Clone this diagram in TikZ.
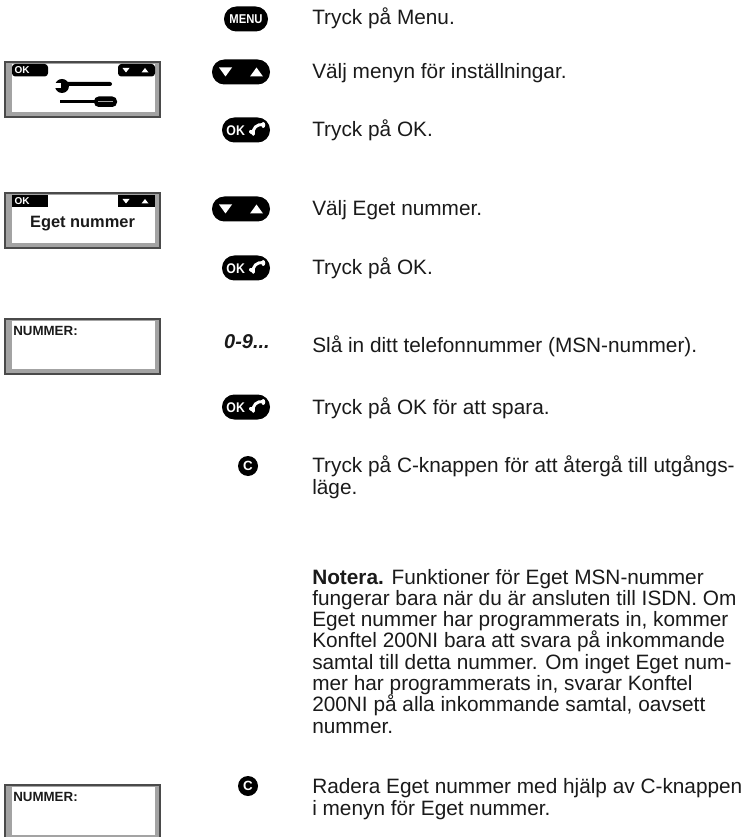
\documentclass[tikz,border=0pt]{standalone}
\usepackage{fontspec}
\setmainfont{Liberation Sans}
\newfontfamily\lcdfont{Liberation Sans}
\newfontfamily\keyfont[FakeStretch=0.88]{Liberation Sans}
\usetikzlibrary{calc}
\definecolor{lcdgray}{HTML}{A3A3A3}
\definecolor{lcdedge}{HTML}{4A4A4A}
\definecolor{ink}{HTML}{1A1A1A}
\tikzset{
  body/.style={anchor=base west, inner sep=0, text=ink, font=\fontsize{15.6}{16}\selectfont},
  pill/.style={fill=black, rounded corners=9.3pt, minimum height=18.75pt, inner sep=0},
  pilltext/.style={inner sep=0, text=white, font=\keyfont\bfseries\fontsize{10.5}{10.5}\selectfont},
  menutext/.style={inner sep=0, text=white, font=\keyfont\bfseries\fontsize{9.6}{9.6}\selectfont},
  cbtn/.style={circle, fill=black, minimum size=15pt, inner sep=0, text=white, font=\lcdfont\bfseries\fontsize{10}{10}\selectfont},
  scrbig/.style={inner sep=0, text=ink, font=\lcdfont\bfseries\fontsize{12.3}{12.3}\selectfont},
  scrlbl/.style={anchor=base west, inner sep=0, text=ink, font=\lcdfont\bfseries\fontsize{10}{10}\selectfont},
  scrbar/.style={inner sep=0, text=white, font=\lcdfont\bfseries\fontsize{7.5}{7.5}\selectfont},
  pics/handset/.style={code={
    \draw[white, line width=2.2pt, line cap=round] (-4.5,4.5) .. controls (-5.5,-2) and (-1,-6) .. (5.5,-5.5);
    \fill[white, rotate=-25] (-4.5,4.5) ellipse (3.0 and 2.0);
    \fill[white] (5.5,-5) ellipse (2.0 and 3.0);
  }},
  pics/updown/.style={code={
    \fill[white] (-22,-4.5) -- (-9,-4.5) -- (-15.5,4.5) -- cycle;
    \fill[white] (9,4.5) -- (22,4.5) -- (15.5,-4.5) -- cycle;
  }},
  pics/lcd/.style={code={
    \fill[lcdgray] (0,0) rectangle (155,55);
    \fill[white] (7,2) rectangle (150,50);
    \draw[lcdedge, line width=0.9pt] (0,0) rectangle (155,55);
  }},
}
\begin{document}
\begin{tikzpicture}[x=0.75pt, y=-0.75pt]
\useasboundingbox (0,0) rectangle (742,837);
\clip (0,0) rectangle (742,837);

% ---------- screens ----------
% screen 1
\pic at (5,62) {lcd};
\begin{scope}[shift={(5,62)}]
  \fill[black, rounded corners=2.5] (7,2) rectangle (43,14.5);
  \node[scrbar] (s1ok) at (17,8.5) {OK};
  \fill[black, rounded corners=2.5] (113,2) rectangle (150,14.5);
  \fill[white] (117.5,6) -- (124.5,6) -- (121,10.5) -- cycle;
  \fill[white] (136.5,10.5) -- (143.5,10.5) -- (140,6) -- cycle;
  % wrench
  \fill[black] (57,24) circle (7);
  \fill[white] (49,21.5) rectangle (56,26.5);
  \fill[black, rounded corners=1.5] (60,20) rectangle (107,24);
  % screwdriver
  \fill[black] (55,38) rectangle (92,41.5);
  \fill[black, rounded corners=3.5] (89,34.5) rectangle (112,45);
  \draw[lcdgray, line width=0.9pt] (93,39.7) -- (108,39.7);
\end{scope}

% screen 2
\pic at (5,193) {lcd};
\begin{scope}[shift={(5,193)}]
  \fill[black] (7,2) rectangle (43,14.5);
  \node[scrbar] (s2ok) at (17,8.5) {OK};
  \fill[black] (113,2) rectangle (150,14.5);
  \fill[white] (117.5,6) -- (124.5,6) -- (121,10.5) -- cycle;
  \fill[white] (136.5,10.5) -- (143.5,10.5) -- (140,6) -- cycle;
  \node[scrbig] (s2txt) at (77.5,31) {Eget nummer};
\end{scope}

% screen 3
\pic at (5,319) {lcd};
\node[scrlbl] (s3txt) at (13,335) {NUMMER:};

% screen 4
\pic at (5,785) {lcd};
\node[scrlbl] (s4txt) at (13,801) {NUMMER:};

% ---------- keys ----------
\node[pill, minimum width=33pt] (menu) at (246,19) {};
\node[menutext] (menut) at (menu) {MENU};

\node[pill, minimum width=43.5pt] (nav1) at (241,72) {};
\pic at (nav1) {updown};

\node[pill, minimum width=36pt] (ok1) at (246,130) {};
\node[pilltext] (ok1t) at ($(ok1.west)+(14,0.5)$) {OK};
\pic at ($(ok1.east)+(-12.5,0)$) {handset};

\node[pill, minimum width=43.5pt] (nav2) at (241,209) {};
\pic at (nav2) {updown};

\node[pill, minimum width=36pt] (ok2) at (246,268) {};
\node[pilltext] (ok2t) at ($(ok2.west)+(14,0.5)$) {OK};
\pic at ($(ok2.east)+(-12.5,0)$) {handset};

\node[anchor=base east, inner sep=0, text=ink, font=\lcdfont\bfseries\itshape\fontsize{15}{15}\selectfont] (digits) at (270,348) {0-9...};

\node[pill, minimum width=36pt] (ok3) at (246,407) {};
\node[pilltext] (ok3t) at ($(ok3.west)+(14,0.5)$) {OK};
\pic at ($(ok3.east)+(-12.5,0)$) {handset};

\node[cbtn] (c1) at (248,466) {C};
\node[cbtn] (c2) at (248,786) {C};

% ---------- texts ----------
\node[body] (t1) at (312,25) {Tryck på Menu.};
\node[body] (t2) at (312,79) {Välj menyn för inställningar.};
\node[body] (t3) at (312,137) {Tryck på OK.};
\node[body] (t4) at (312,216) {Välj Eget nummer.};
\node[body] (t5) at (312,275) {Tryck på OK.};
\node[body] (t6) at (312,352) {Slå in ditt telefonnummer (MSN-nummer).};
\node[body] (t7) at (312,414) {Tryck på OK för att spara.};
\node[body] (t8a) at (312,472) {Tryck på C-knappen för att återgå till utgångs-};
\node[body] (t8b) at (312,494) {läge.};

\node[body] (n1) at (312,584) {\textbf{Notera.} Funktioner för Eget MSN-nummer};
\node[body] (n2) at (312,605) {fungerar bara när du är ansluten till ISDN. Om};
\node[body] (n3) at (312,626) {Eget nummer har programmerats in, kommer};
\node[body] (n4) at (312,647) {Konftel 200NI bara att svara på inkommande};
\node[body] (n5) at (312,669) {samtal till detta nummer. Om inget Eget num-};
\node[body] (n6) at (312,690) {mer har programmerats in, svarar Konftel};
\node[body] (n7) at (312,711) {200NI på alla inkommande samtal, oavsett};
\node[body] (n8) at (312,733) {nummer.};

\node[body] (r1) at (312,793) {Radera Eget nummer med hjälp av C-knappen};
\node[body] (r2) at (312,815) {i menyn för Eget nummer.};
\end{tikzpicture}
\end{document}
